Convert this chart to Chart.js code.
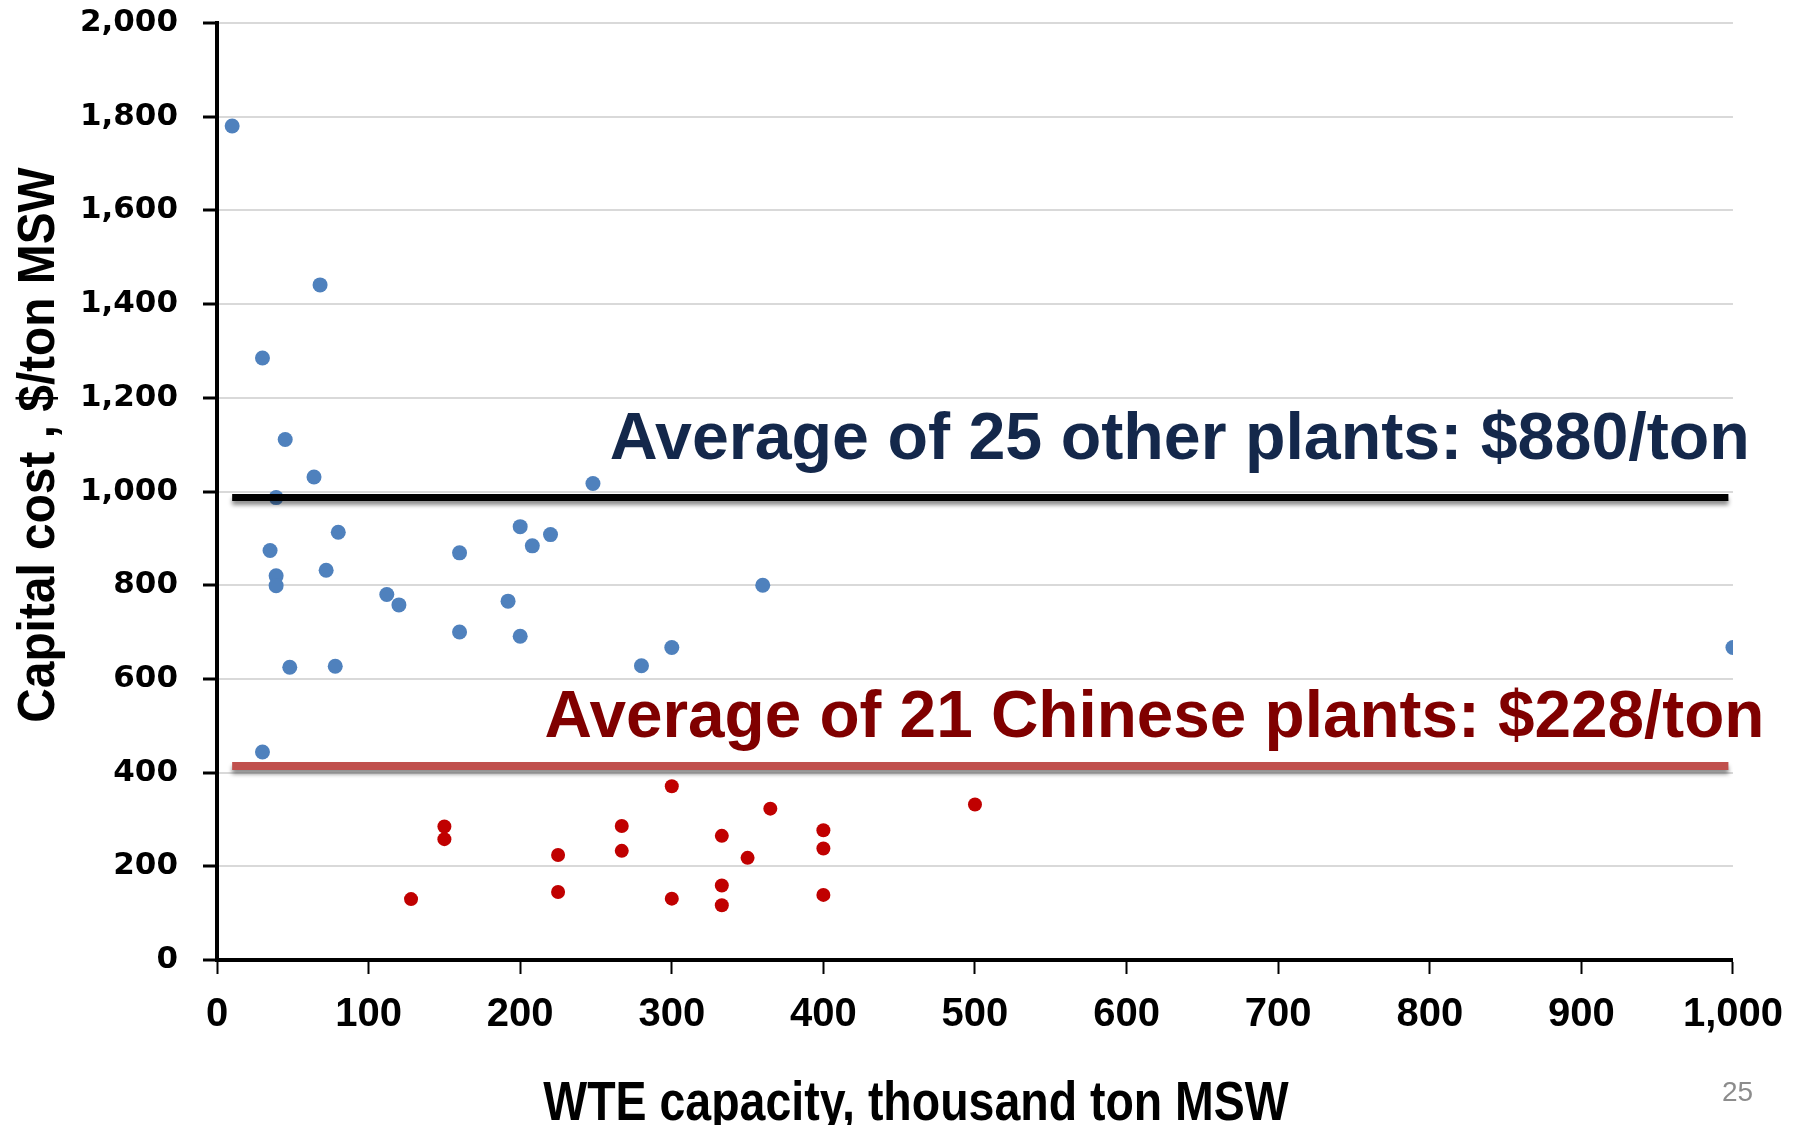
<!DOCTYPE html>
<html>
<head>
<meta charset="utf-8">
<script src="https://cdn.jsdelivr.net/npm/chart.js@4.4.1/dist/chart.umd.min.js"></script>
<style>
  html, body { margin: 0; padding: 0; background: #fff; }
  #wrap { width: 1800px; height: 1125px; position: relative; }
</style>
</head>
<body>
<div id="wrap"><canvas id="wteChart"></canvas></div>
<script>
// capacity (thousand ton MSW) and capital cost ($/ton) of plants outside China
var otherCapacity = [10, 68, 30, 45, 64, 248, 39, 35, 80, 39, 39, 72, 112, 120, 160, 160, 200, 208, 220, 192, 200, 48, 78, 30, 280, 300, 360, 1000];
var otherCost     = [1780, 1441, 1285, 1111, 1031, 1017, 987, 874, 913, 820, 799, 832, 780, 758, 869, 700, 925, 884, 908, 766, 691, 625, 627, 444, 628, 667, 800, 667];

// Chinese plants
var chinaCapacity = [300, 500, 365, 150, 150, 267, 333, 400, 400, 267, 225, 350, 128, 225, 300, 333, 333, 400];
var chinaCost     = [371, 332, 323, 285, 258, 286, 265, 277, 238, 233, 224, 218, 130, 145, 131, 159, 117, 139];

// average lines drawn across the plot
var avgSpan = [10, 997];
var otherAvgLevel = 987;
var chinaAvgLevel = 414;

var otherAvgText = 'Average of 25 other plants: $880/ton';
var chinaAvgText = 'Average of 21 Chinese plants: $228/ton';

var xTitle = 'WTE capacity, thousand ton MSW';
var yTitle = 'Capital cost , $/ton MSW';
var slideNumber = '25';

var toPoints = function (xs, ys) {
  return xs.map(function (x, i) { return { x: x, y: ys[i] }; });
};

var sans = '"Liberation Sans", Arial, sans-serif';

// soft grey shadow under the two average lines
var lineShadow = {
  id: 'lineShadow',
  beforeDatasetDraw: function (chart, args) {
    if (!chart.data.datasets[args.index].shadow) return;
    var ctx = chart.ctx;
    ctx.save();
    ctx.shadowColor = 'rgba(0,0,0,0.45)';
    ctx.shadowBlur = 4;
    ctx.shadowOffsetY = 4;
  },
  afterDatasetDraw: function (chart, args) {
    if (!chart.data.datasets[args.index].shadow) return;
    chart.ctx.restore();
  }
};

// condensed text: squeeze horizontally around the anchor
function squeezedText(ctx, text, x, y, sx) {
  ctx.save();
  ctx.translate(x, y);
  ctx.scale(sx, 1);
  ctx.fillText(text, 0, 0);
  ctx.restore();
}

// annotation text and axis titles
var labelsPlugin = {
  id: 'labelsPlugin',
  afterDraw: function (chart) {
    var ctx = chart.ctx;
    var xs = chart.scales.x, ys = chart.scales.y;
    ctx.save();
    ctx.textAlign = 'left';
    ctx.textBaseline = 'alphabetic';

    ctx.font = 'bold 67px ' + sans;
    ctx.fillStyle = '#14284B';
    squeezedText(ctx, otherAvgText, xs.getPixelForValue(259), ys.getPixelForValue(1069), 0.99);

    ctx.fillStyle = '#800000';
    squeezedText(ctx, chinaAvgText, xs.getPixelForValue(216), ys.getPixelForValue(476), 0.98);

    ctx.fillStyle = '#000';
    ctx.textAlign = 'center';
    ctx.font = 'bold 56px ' + sans;
    squeezedText(ctx, xTitle, 916, 1120, 0.83);

    ctx.save();
    ctx.translate(54, 445);
    ctx.rotate(-Math.PI / 2);
    ctx.scale(0.92, 1);
    ctx.font = 'bold 52px ' + sans;
    ctx.fillText(yTitle, 0, 0);
    ctx.restore();

    ctx.textAlign = 'left';
    ctx.font = '28px ' + sans;
    ctx.fillStyle = '#8C8C8C';
    ctx.fillText(slideNumber, 1722, 1101);
    ctx.restore();
  }
};

new Chart(document.getElementById('wteChart'), {
  type: 'scatter',
  data: {
    datasets: [
      {
        label: 'Other plants',
        data: toPoints(otherCapacity, otherCost),
        backgroundColor: '#4F81BD',
        borderWidth: 0,
        pointRadius: 7.5,
        order: 2
      },
      {
        label: 'Chinese plants',
        data: toPoints(chinaCapacity, chinaCost),
        backgroundColor: '#C00000',
        borderWidth: 0,
        pointRadius: 7,
        order: 2
      },
      {
        label: 'Other average',
        type: 'line',
        data: toPoints(avgSpan, [otherAvgLevel, otherAvgLevel]),
        borderColor: '#000000',
        borderWidth: 7,
        pointRadius: 0,
        shadow: true,
        order: 1
      },
      {
        label: 'Chinese average',
        type: 'line',
        data: toPoints(avgSpan, [chinaAvgLevel, chinaAvgLevel]),
        borderColor: '#C0504D',
        borderWidth: 8,
        pointRadius: 0,
        shadow: true,
        order: 1
      }
    ]
  },
  options: {
    responsive: true,
    maintainAspectRatio: false,
    animation: false,
    layout: { padding: { left: 0, right: 58, top: 23, bottom: 0 } },
    plugins: {
      legend: { display: false },
      tooltip: { enabled: false }
    },
    scales: {
      x: {
        type: 'linear',
        min: 0,
        max: 1000,
        afterFit: function (scale) { scale.height = 165; },
        border: { color: '#000', width: 4 },
        grid: {
          drawOnChartArea: false,
          tickColor: '#000',
          tickWidth: 2,
          tickLength: 14
        },
        ticks: {
          stepSize: 100,
          padding: 17,
          color: '#000',
          font: { family: sans, weight: 'bold', size: 40 },
          callback: function (v) { return v.toLocaleString('en-US'); }
        }
      },
      y: {
        min: 0,
        max: 2000,
        afterFit: function (scale) {
          scale.width = 217;
          scale.paddingTop = 0;
          scale.paddingBottom = 0;
        },
        border: { color: '#000', width: 4 },
        grid: {
          color: '#D9D9D9',
          lineWidth: 2,
          tickColor: '#000',
          tickWidth: 3,
          tickLength: 14
        },
        ticks: {
          stepSize: 200,
          padding: 25,
          color: '#000',
          font: { family: '"DejaVu Sans", sans-serif', weight: 'bold', size: 31 },
          callback: function (v) { return v.toLocaleString('en-US'); }
        }
      }
    }
  },
  plugins: [lineShadow, labelsPlugin]
});
</script>
</body>
</html>
